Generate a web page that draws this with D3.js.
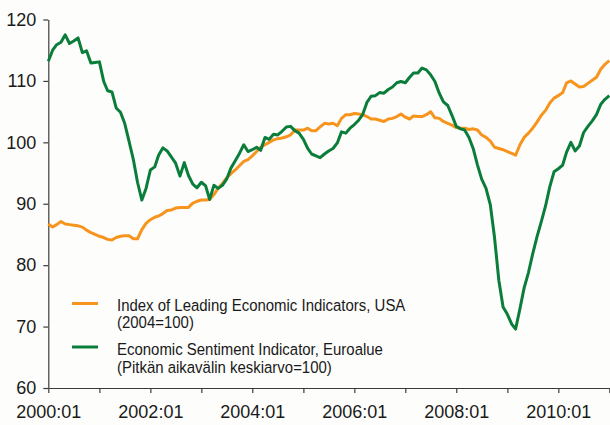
<!DOCTYPE html>
<html>
<head>
<meta charset="utf-8">
<script src="https://cdn.jsdelivr.net/npm/d3@7"></script>
<style>
  body { margin: 0; background: #fdfdfb; }
  svg { display: block; }
  .axis text { font-family: "Liberation Sans", Arial, sans-serif; font-size: 18px; fill: #1a1a1a; }
  .axis path, .axis line { stroke: #3c3c3c; stroke-width: 1.2; }
  .legend text { font-family: "Liberation Sans", Arial, sans-serif; font-size: 17px; fill: #1a1a1a; }
</style>
</head>
<body>
<div id="chart"></div>
<script>
// monthly values, 2000:01 .. 2011:01
var leiValues = [
    86.7, 86.2, 86.6, 87.1, 86.7, 86.6, 86.5, 86.4, 86.2, 85.7, 85.3, 85.0,
    84.7, 84.5, 84.2, 84.1, 84.5, 84.7, 84.8, 84.8, 84.3, 84.3, 85.8, 86.8,
    87.4, 87.8, 88.0, 88.4, 88.9, 89.0, 89.3, 89.4, 89.4, 89.4, 90.1, 90.4,
    90.6, 90.6, 90.7, 91.5, 92.5, 93.3, 94.2, 94.9, 95.5, 96.2, 96.9, 97.2,
    97.8, 98.5, 99.2, 99.6, 100.0, 100.4, 100.6, 100.7, 100.9, 101.2, 102.0, 102.0,
    102.0, 102.3, 101.9, 101.9, 102.5, 103.1, 103.0, 103.1, 102.7, 103.9, 104.5, 104.5,
    104.7, 104.6, 104.5, 104.2, 103.8, 103.8, 103.6, 103.4, 103.8, 103.9, 104.2, 104.6,
    104.1, 103.8, 104.3, 104.2, 104.2, 104.5, 105.0, 104.0, 103.9, 103.4, 103.1, 102.8,
    102.4, 102.3, 102.3, 102.1, 102.2, 102.0, 101.2, 100.8, 100.2, 99.2, 99.0, 98.8,
    98.5, 98.2, 97.9, 99.6, 100.8, 101.5, 102.3, 103.3, 104.4, 105.2, 106.4, 107.2,
    107.6, 108.1, 109.7, 110.0, 109.5, 109.0, 109.1, 109.6, 110.1, 110.6, 111.9, 112.7,
    113.3
];

var esiValues = [
    113.2, 115.0, 115.9, 116.3, 117.5, 116.1, 116.5, 117.0, 114.6, 114.9, 112.9, 113.0,
    113.1, 109.9, 108.4, 108.2, 105.6, 104.9, 103.1, 100.2, 97.2, 93.5, 90.6, 92.5,
    95.5, 96.0, 97.9, 99.1, 98.6, 97.6, 96.6, 94.5, 96.7, 94.6, 93.2, 92.6,
    93.5, 92.9, 90.7, 93.0, 92.5, 93.0, 94.0, 95.8, 97.0, 98.2, 99.6, 98.5,
    98.8, 99.2, 98.7, 100.8, 100.5, 101.3, 101.2, 101.8, 102.5, 102.6, 101.9, 101.5,
    100.5, 99.0, 98.1, 97.8, 97.5, 98.1, 98.6, 99.0, 99.9, 101.7, 101.5, 102.3,
    102.9, 103.6, 104.5, 106.5, 107.5, 107.6, 108.1, 108.0, 108.6, 109.0, 109.7, 109.9,
    109.7, 110.6, 111.3, 111.3, 112.1, 111.8, 111.0, 109.9, 108.0, 106.6, 106.0, 104.4,
    102.6, 102.2, 102.0, 100.8, 99.0, 96.3, 94.0, 92.5, 89.8, 84.5, 77.5, 73.2,
    72.0, 70.4, 69.6, 72.9, 76.3, 78.8, 81.8, 84.6, 87.1, 89.6, 92.8, 95.2,
    95.7, 96.3, 98.4, 100.0, 98.6, 99.4, 101.6, 102.6, 103.5, 104.5, 106.2, 107.0,
    107.6
];

var yTicks = [60, 70, 80, 90, 100, 110, 120];
var xTickYears = [2000, 2001, 2002, 2003, 2004, 2005, 2006, 2007, 2008, 2009, 2010, 2011];
var xLabels = ["2000:01", "2002:01", "2004:01", "2006:01", "2008:01", "2010:01"];

var legendLabels = [
    ["Index of Leading Economic Indicators, USA", "(2004=100)"],
    ["Economic Sentiment Indicator, Euroalue", "(Pitkän aikavälin keskiarvo=100)"]
];

var colors = ["#f7941d", "#0b7d3b"];

var W = 610, H = 425;
var plot = {left: 48.3, right: 609.3, top: 19.5, bottom: 388};

var svg = d3.select("#chart")
    .append("svg")
    .attr("width", W)
    .attr("height", H);

svg.append("rect")
    .attr("width", W)
    .attr("height", H)
    .attr("fill", "#fdfdfb");

var x = d3.scaleTime()
    .domain([new Date(2000, 0, 1), new Date(2011, 0, 1)])
    .range([plot.left, plot.right]);

var y = d3.scaleLinear()
    .domain([60, 120])
    .range([plot.bottom, plot.top]);

var dates = leiValues.map((v, i) => new Date(2000, i, 1));

// axes
svg.append("g")
    .attr("class", "axis")
    .attr("transform", `translate(${plot.left}, 0)`)
    .call(d3.axisLeft(y)
        .tickValues(yTicks)
        .tickSize(5)
        .tickSizeOuter(0)
        .tickPadding(7));

svg.append("g")
    .attr("class", "axis")
    .attr("transform", `translate(0, ${plot.bottom})`)
    .call(d3.axisBottom(x)
        .tickValues(xTickYears.map(yr => new Date(yr, 0, 1)))
        .tickSize(5)
        .tickSizeOuter(0)
        .tickPadding(12)
        .tickFormat((d, i) => i % 2 === 0 ? xLabels[i / 2] : ""));

// lines
var line = d3.line()
    .x((d, i) => x(dates[i]))
    .y(d => y(d));

[leiValues, esiValues].forEach((vals, k) => {
    svg.append("path")
        .datum(vals)
        .attr("d", line)
        .attr("fill", "none")
        .attr("stroke", colors[k])
        .attr("stroke-width", 3)
        .attr("stroke-linejoin", "round");
});

// legend (text squeezed a bit to mimic the condensed face)
var legend = svg.append("g").attr("class", "legend");
var legendY = [[303.5, 311.5, 328], [347, 355, 373]];

legendLabels.forEach((lbl, k) => {
    legend.append("line")
        .attr("x1", 72).attr("x2", 98)
        .attr("y1", legendY[k][0]).attr("y2", legendY[k][0])
        .attr("stroke", colors[k])
        .attr("stroke-width", 3);
    var t = legend.append("g")
        .attr("transform", "translate(117, 0) scale(0.88, 1)");
    t.append("text")
        .attr("x", 0).attr("y", legendY[k][1])
        .text(lbl[0]);
    t.append("text")
        .attr("x", 0).attr("y", legendY[k][2])
        .text(lbl[1]);
});
</script>
</body>
</html>
